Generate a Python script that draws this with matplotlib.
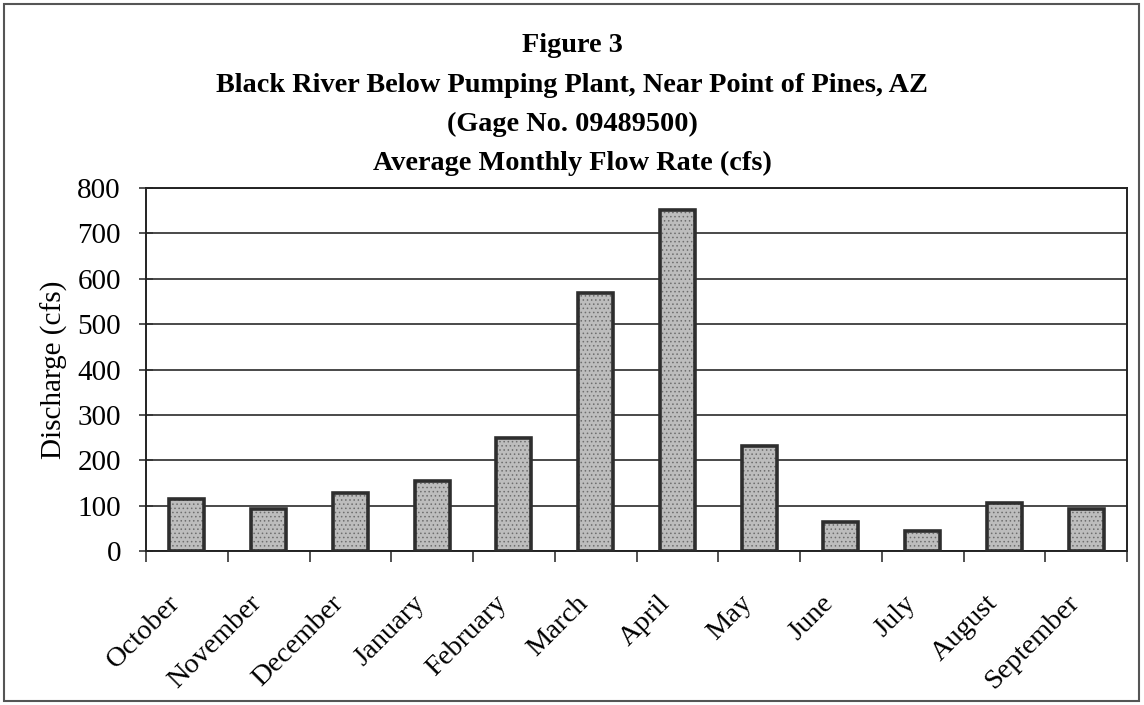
import matplotlib.pyplot as plt
from matplotlib.patches import Rectangle
from matplotlib.transforms import ScaledTranslation

months = ["October", "November", "December", "January", "February", "March",
          "April", "May", "June", "July", "August", "September"]
discharge = [115, 93, 127, 155, 249, 568, 752, 231, 65, 45, 105, 92]

title_lines = ["Figure 3",
               "Black River Below Pumping Plant, Near Point of Pines, AZ",
               "(Gage No. 09489500)",
               "Average Monthly Flow Rate (cfs)"]

plt.rcParams["font.family"] = ["Liberation Serif", "DejaVu Serif"]
plt.rcParams["hatch.linewidth"] = 0.6

fig = plt.figure(figsize=(11.44, 7.05), dpi=100)
ax = fig.add_axes([146 / 1144, 1 - 551 / 705, 981 / 1144, 363 / 705])

x = list(range(len(months)))
# stippled fill, then the dark outline on top
ax.bar(x, discharge, width=0.43, color="#bdbdbd", edgecolor="#6e6e6e",
       hatch="....", linewidth=0, zorder=3)
ax.bar(x, discharge, width=0.43, fill=False, edgecolor="#2e2e2e",
       linewidth=2.6, zorder=4)

ax.set_xlim(-0.5, len(months) - 0.5)
ax.set_ylim(0, 800)
ax.set_yticks(range(0, 801, 100))
ax.yaxis.grid(True, color="#3a3a3a", linewidth=1.3)
ax.set_axisbelow(True)

ax.set_xticks([i - 0.5 for i in range(len(months) + 1)])
ax.set_xticklabels([])
ax.set_xticks(x, minor=True)
ax.set_xticklabels(months, minor=True, rotation=45, ha="right",
                   va="center", rotation_mode="anchor", fontsize=20.5)
ax.tick_params(axis="x", which="minor", length=0, pad=35)
ax.tick_params(axis="x", which="major", length=8, width=1.2, color="#333333")
ax.tick_params(axis="y", direction="inout", length=10, width=1.2,
               color="#333333", labelsize=21, pad=13)

# nudge the slanted month names to the left of their slots
shift = ScaledTranslation(-11 / 100, 0, fig.dpi_scale_trans)
for lab in ax.get_xticklabels(minor=True):
    lab.set_transform(lab.get_transform() + shift)

for side in ax.spines.values():
    side.set_color("#222222")
    side.set_linewidth(1.4)

ax.set_ylabel("Discharge (cfs)", fontsize=21, labelpad=7)

for i, line in enumerate(title_lines):
    fig.text(0.5, 1 - (46 + 39 * i) / 705, line, ha="center", va="center",
             fontsize=20.3, fontweight="bold")

fig.patches.append(Rectangle((4 / 1144, 4 / 705), 1135 / 1144, 697 / 705,
                             transform=fig.transFigure, fill=False,
                             edgecolor="#555555", linewidth=1.5))

fig.savefig("out.png", dpi=100)
plt.close(fig)
